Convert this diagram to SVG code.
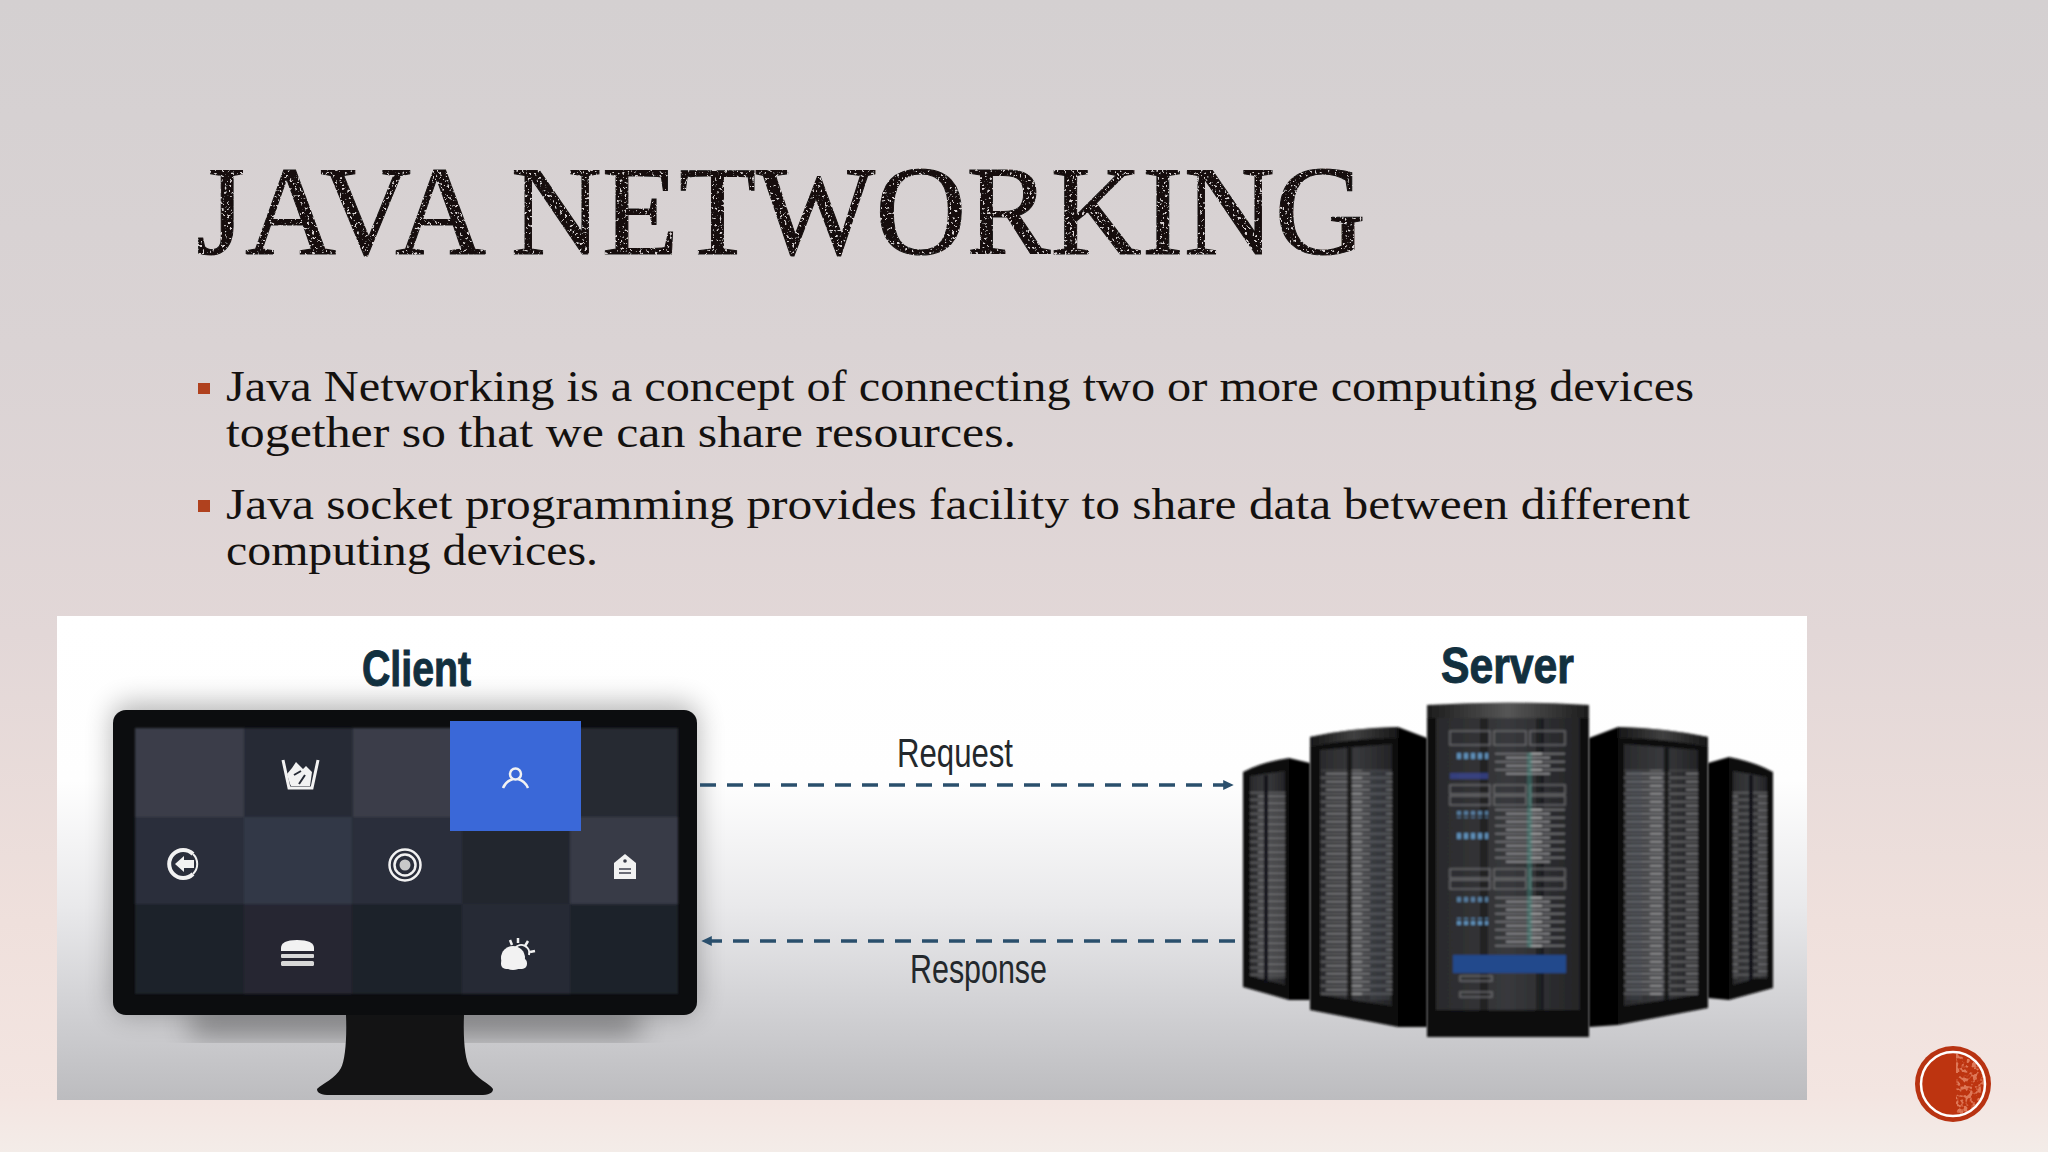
<svg xmlns="http://www.w3.org/2000/svg" width="2048" height="1152" viewBox="0 0 2048 1152">
<style>
.serif{font-family:"Liberation Serif","Times New Roman",serif;fill:#14110f}
.body{font-size:45px}
.head{font-family:"Liberation Sans",Arial,sans-serif;font-weight:700;fill:#12303f;stroke:#12303f;stroke-width:1px;font-size:50px}
.lab{font-family:"Liberation Sans",Arial,sans-serif;fill:#23282c;font-size:41px}
.dash{stroke:#2a4f6c;stroke-width:3.5;stroke-dasharray:16 11;fill:none}
.ic{fill:#f2f2f2}
.ico{fill:none;stroke:#f2f2f2}
.rk{fill:#0c0c0d}
.sd{fill:#050505}
</style>
<defs>
<linearGradient id="bg" x1="0" y1="0" x2="0" y2="1">
<stop offset="0" stop-color="#d4d0d1"/><stop offset=".3" stop-color="#dad3d4"/><stop offset=".55" stop-color="#e2d7d7"/><stop offset=".8" stop-color="#efe0dc"/><stop offset=".95" stop-color="#f3e5e1"/><stop offset="1" stop-color="#f3ece8"/>
</linearGradient>
<linearGradient id="panel" x1="0" y1="0" x2="0" y2="1">
<stop offset="0" stop-color="#ffffff"/><stop offset=".34" stop-color="#fefefe"/><stop offset=".6" stop-color="#e9e9eb"/><stop offset=".8" stop-color="#d2d2d5"/><stop offset="1" stop-color="#bcbcbf"/>
</linearGradient>
<linearGradient id="rackFront" x1="0" y1="0" x2="1" y2="0">
<stop offset="0" stop-color="#2a2a2c"/><stop offset=".5" stop-color="#38393c"/><stop offset="1" stop-color="#242426"/>
</linearGradient>
<linearGradient id="capG" x1="0" y1="0" x2="1" y2="0">
<stop offset="0" stop-color="#1c1c1c"/><stop offset=".5" stop-color="#565656"/><stop offset="1" stop-color="#1c1c1c"/>
</linearGradient>
<pattern id="slats" width="60" height="8" patternUnits="userSpaceOnUse">
<rect width="60" height="1.500" y="1" fill="#77777a"/>
<rect width="44" height="1.500" y="5" x="6" fill="#9a9a9d"/>
<rect x="30" width="12" height="1.500" y="1" fill="#bdbdbf"/>
</pattern>
<pattern id="slatsDim" width="50" height="7" patternUnits="userSpaceOnUse">
<rect width="50" height="1.500" y="1" fill="#6b6b6e"/>
<rect width="30" height="1.500" y="4.500" x="8" fill="#8d8d90"/>
</pattern>
<pattern id="blueDots" width="7" height="8" patternUnits="userSpaceOnUse">
<rect x="1" y="1" width="4" height="6" fill="#5f8fb8"/>
</pattern>
<filter id="soft" x="-5%" y="-5%" width="110%" height="110%"><feGaussianBlur stdDeviation="1"/></filter>
<filter id="sh" x="-20%" y="-40%" width="140%" height="180%"><feGaussianBlur stdDeviation="14"/></filter>
<filter id="sl" x="-2%" y="-2%" width="104%" height="104%"><feGaussianBlur stdDeviation="1.2"/></filter>
<filter id="grunge" x="0" y="0" width="100%" height="100%">
<feTurbulence type="fractalNoise" baseFrequency=".4" numOctaves="2" seed="4" result="n"/>
<feColorMatrix in="n" type="matrix" values="0 0 0 0 0 0 0 0 0 0 0 0 0 0 0 0 0 0 -10 7" result="m"/>
<feComposite in="SourceGraphic" in2="m" operator="in"/>
</filter>
<filter id="speck" x="0" y="0" width="100%" height="100%">
<feTurbulence type="fractalNoise" baseFrequency=".22" numOctaves="2" seed="7" result="n"/>
<feColorMatrix in="n" type="matrix" values="0 0 0 0 1 0 0 0 0 .5 0 0 0 0 .35 0 0 0 7 -3.4" result="m"/>
<feComposite in="m" in2="SourceGraphic" operator="in"/>
</filter>
<marker id="ah" markerWidth="3.200" markerHeight="3.200" refX="2.800" refY="1.600" orient="auto" markerUnits="strokeWidth"><path d="M0 .2L3 1.600L0 3z" fill="#2a4f6c"/></marker>
</defs>

<rect width="2048" height="1152" fill="url(#bg)"/>

<g id="title">
<text class="serif" x="196" y="254" font-size="127" textLength="1170" lengthAdjust="spacingAndGlyphs" stroke="#14110f" stroke-width="1" filter="url(#grunge)">JAVA NETWORKING</text>
</g>

<g id="bullets">
<rect x="198" y="383" width="12" height="11" fill="#b0411e"/>
<text class="serif body" x="226" y="401" textLength="1468" lengthAdjust="spacingAndGlyphs">Java Networking is a concept of connecting two or more computing devices</text>
<text class="serif body" x="226" y="447" textLength="790" lengthAdjust="spacingAndGlyphs">together so that we can share resources.</text>
<rect x="198" y="500" width="12" height="12" fill="#b0411e"/>
<text class="serif body" x="226" y="519" textLength="1464" lengthAdjust="spacingAndGlyphs">Java socket programming provides facility to share data between different</text>
<text class="serif body" x="226" y="565" textLength="372" lengthAdjust="spacingAndGlyphs">computing devices.</text>
</g>

<rect id="panel-bg" x="57" y="616" width="1750" height="484" fill="url(#panel)"/>

<g id="node-client">
<text class="head" x="362" y="686" textLength="109" lengthAdjust="spacingAndGlyphs">Client</text>
<rect x="113" y="704" width="584" height="310" rx="14" fill="#000" opacity=".3" filter="url(#sh)"/>
<rect x="190" y="1012" width="450" height="22" fill="#000" opacity=".42" filter="url(#sh)"/>
<path d="M346 1015H464C463 1040 465 1060 470 1068C476 1078 490 1084 493 1089Q493 1095 480 1095H330Q317 1095 317 1089C322 1084 336 1078 341 1068C345 1060 347 1040 346 1015Z" fill="#131314"/>
<rect x="113" y="710" width="584" height="305" rx="13" fill="#0c0d0f"/>
<g id="screen" filter="url(#sl)">
<rect x="135" y="728" width="109" height="89" fill="#3a3d4a"/>
<rect x="244" y="728" width="108.500" height="89" fill="#262a35"/>
<rect x="352.500" y="728" width="109.500" height="89" fill="#3a3d4a"/>
<rect x="462" y="728" width="108" height="89" fill="#2a2d38"/>
<rect x="570" y="728" width="108" height="89" fill="#262a33"/>
<rect x="135" y="817" width="109" height="87" fill="#2a2e3a"/>
<rect x="244" y="817" width="108.500" height="87" fill="#333847"/>
<rect x="352.500" y="817" width="109.500" height="87" fill="#2a2e3a"/>
<rect x="462" y="817" width="108" height="87" fill="#22252e"/>
<rect x="570" y="817" width="108" height="87" fill="#383b47"/>
<rect x="135" y="904" width="109" height="90" fill="#1f222b"/>
<rect x="244" y="904" width="108.500" height="90" fill="#252831"/>
<rect x="352.500" y="904" width="109.500" height="90" fill="#1f222b"/>
<rect x="462" y="904" width="108" height="90" fill="#272a35"/>
<rect x="570" y="904" width="108" height="90" fill="#1f222b"/>
</g>
<rect x="450" y="721" width="131" height="110" fill="#3a68d8"/>
<g id="icons">
<path d="M283 760L289 788H312L318 760" class="ico" stroke-width="3"/>
<path d="M290 784L287 774L292 768L296 762L303 769L306 766L312 772L310 786H291Z" class="ic"/>
<path d="M294 775L301 771M299 784L305 775" stroke="#262a35" stroke-width="2"/>
<circle cx="515.500" cy="774" r="5.500" class="ico" stroke-width="2.500"/>
<path d="M503 788Q506 781 513 779M528 788Q525 781 518 779" class="ico" stroke-width="2.500"/>
<path d="M193 854A14 14 0 1 0 193 874" class="ico" stroke-width="4"/>
<path d="M193 854A14 14 0 0 1 193 874" class="ico" stroke-width="2"/>
<path d="M175 864L184 856V860H194V868H184V872Z" class="ic"/>
<circle cx="405" cy="865" r="15.500" class="ico" stroke-width="2.500"/>
<circle cx="405" cy="865" r="10.500" class="ico" stroke-width="2.500"/>
<circle cx="405" cy="865" r="5.500" fill="#c8c8c8"/>
<path d="M625 854L636 863V879H614V863Z" class="ic"/>
<circle cx="625" cy="861" r="1.800" fill="#383b47"/>
<path d="M619 869H631M619 873H631" stroke="#6a6c76" stroke-width="2"/>
<path d="M281 951V948Q281 940 297 940Q314 940 314 948V951Z" class="ic"/>
<rect x="281" y="954" width="33" height="4" rx="1" fill="#d8d8d8"/>
<rect x="281" y="961" width="33" height="5" rx="1.500" fill="#d8d8d8"/>
<circle cx="513" cy="958" r="12" class="ic"/>
<rect x="501" y="958" width="26" height="11" rx="5" class="ic"/>
<path d="M515 948A8 8 0 0 1 529 955" fill="none" stroke="#f2f2f2" stroke-width="2"/>
<path d="M518 938V943M510 940L512 945M528 941L525 946M535 951L530 952" class="ico" stroke-width="2.500"/>
</g>
</g>

<g id="connectors">
<line id="request" class="dash" x1="700" y1="785" x2="1233" y2="785" marker-end="url(#ah)"/>
<line id="response" class="dash" x1="1235" y1="941" x2="702" y2="941" marker-end="url(#ah)"/>
<text class="lab" x="897" y="767" textLength="116" lengthAdjust="spacingAndGlyphs">Request</text>
<text class="lab" x="910" y="983" textLength="137" lengthAdjust="spacingAndGlyphs">Response</text>
</g>

<g id="node-server">
<text class="head" x="1441" y="683" textLength="133" lengthAdjust="spacingAndGlyphs">Server</text>
<g id="rack-l1" filter="url(#soft)">
<path d="M1289 758L1310 763V1000L1289 1000Z" class="sd"/>
<path d="M1243 772Q1262 762 1289 758V1000L1243 987Z" class="rk"/>
<path d="M1250 776L1285 771V985L1250 976Z" fill="url(#rackFront)"/>
<rect x="1250" y="790" width="35" height="188" fill="url(#slatsDim)" opacity=".85"/>
<rect x="1264" y="775" width="4" height="208" fill="#111112"/>
</g>
<g id="rack-l2" filter="url(#soft)">
<path d="M1398 727L1427 738V1027L1398 1027Z" class="sd"/>
<path d="M1310 737Q1350 728 1398 727V1027L1310 1010Z" class="rk"/>
<path d="M1310 737Q1350 728 1398 727V738Q1350 738 1310 747Z" fill="url(#capG)" opacity=".7"/>
<path d="M1320 750L1392 744V1006L1320 995Z" fill="url(#rackFront)"/>
<rect x="1321" y="770" width="71" height="225" fill="url(#slats)" opacity=".8"/>
<rect x="1347" y="748" width="5" height="252" fill="#111112" opacity=".8"/>
<rect x="1370" y="770" width="20" height="230" fill="#4a5058" opacity=".35"/>
</g>
<g id="rack-r1" filter="url(#soft)">
<path d="M1708 763L1729 757V1000L1708 998Z" class="sd"/>
<path d="M1729 757Q1755 762 1773 772V988L1729 1000Z" class="rk"/>
<path d="M1733 771L1767 777V975L1733 985Z" fill="url(#rackFront)"/>
<rect x="1733" y="790" width="34" height="188" fill="url(#slatsDim)" opacity=".85"/>
<rect x="1749" y="775" width="4" height="205" fill="#111112"/>
</g>
<g id="rack-r2" filter="url(#soft)">
<path d="M1589 738L1618 727V1025L1589 1027Z" class="sd"/>
<path d="M1618 727Q1665 728 1708 737V1008L1618 1025Z" class="rk"/>
<path d="M1618 727Q1665 728 1708 737V747Q1665 738 1618 738Z" fill="url(#capG)" opacity=".7"/>
<path d="M1624 744L1698 750V995L1624 1006Z" fill="url(#rackFront)"/>
<rect x="1624" y="770" width="74" height="225" fill="url(#slats)" opacity=".8"/>
<rect x="1664" y="748" width="5" height="252" fill="#111112" opacity=".8"/>
<rect x="1626" y="770" width="16" height="230" fill="#4a5058" opacity=".3"/>
</g>
<g id="rack-center" filter="url(#soft)">
<rect x="1427" y="705" width="162" height="332" fill="#0a0a0b"/>
<path d="M1427 705Q1508 700 1589 705V718H1427Z" fill="url(#capG)"/>
<rect x="1436" y="718" width="144" height="292" fill="url(#rackFront)"/>
<rect x="1480" y="718" width="8" height="292" fill="#101011" opacity=".5"/>
<rect x="1536" y="718" width="8" height="292" fill="#101011" opacity=".5"/>
<g fill="none" stroke="#77777a" stroke-width="1.200">
<rect x="1450" y="731" width="40" height="14"/><rect x="1494" y="731" width="32" height="14"/><rect x="1530" y="731" width="35" height="14"/>
<rect x="1450" y="785" width="40" height="9"/><rect x="1450" y="796" width="40" height="9"/><rect x="1494" y="785" width="32" height="9"/><rect x="1494" y="796" width="32" height="9"/><rect x="1530" y="785" width="35" height="9"/><rect x="1530" y="796" width="35" height="9"/>
<rect x="1450" y="869" width="40" height="9"/><rect x="1450" y="880" width="40" height="9"/><rect x="1494" y="869" width="32" height="9"/><rect x="1494" y="880" width="32" height="9"/><rect x="1530" y="869" width="35" height="9"/><rect x="1530" y="880" width="35" height="9"/>
<rect x="1460" y="976" width="32" height="5"/><rect x="1460" y="992" width="32" height="5"/>
</g>
<rect x="1495" y="753" width="70" height="24" fill="url(#slats)"/>
<rect x="1495" y="809" width="70" height="55" fill="url(#slats)"/>
<rect x="1495" y="895" width="70" height="52" fill="url(#slats)"/>
<rect x="1527" y="753" width="5" height="194" fill="#3fa090" opacity=".35"/>
<rect x="1455" y="753" width="33" height="8" fill="url(#blueDots)"/>
<rect x="1450" y="773" width="38" height="6" fill="#3a4aa0" opacity=".7"/>
<rect x="1455" y="811" width="33" height="7" fill="url(#blueDots)" opacity=".8"/>
<rect x="1455" y="832" width="33" height="7" fill="url(#blueDots)"/>
<rect x="1455" y="896" width="33" height="6" fill="url(#blueDots)" opacity=".8"/>
<rect x="1455" y="918" width="33" height="7" fill="url(#blueDots)"/>
<rect x="1453" y="955" width="113" height="18" fill="#24488c"/>
</g>
</g>

<g id="badge">
<circle cx="1953" cy="1084" r="38" fill="#b83312"/>
<circle cx="1953" cy="1084" r="32" fill="#bd3410" stroke="#fff" stroke-width="2.500"/>
<circle cx="1953" cy="1084" r="31" fill="#fff" filter="url(#speck)" opacity=".5" clip-path="inset(0 0 0 55%)"/>
</g>
</svg>
